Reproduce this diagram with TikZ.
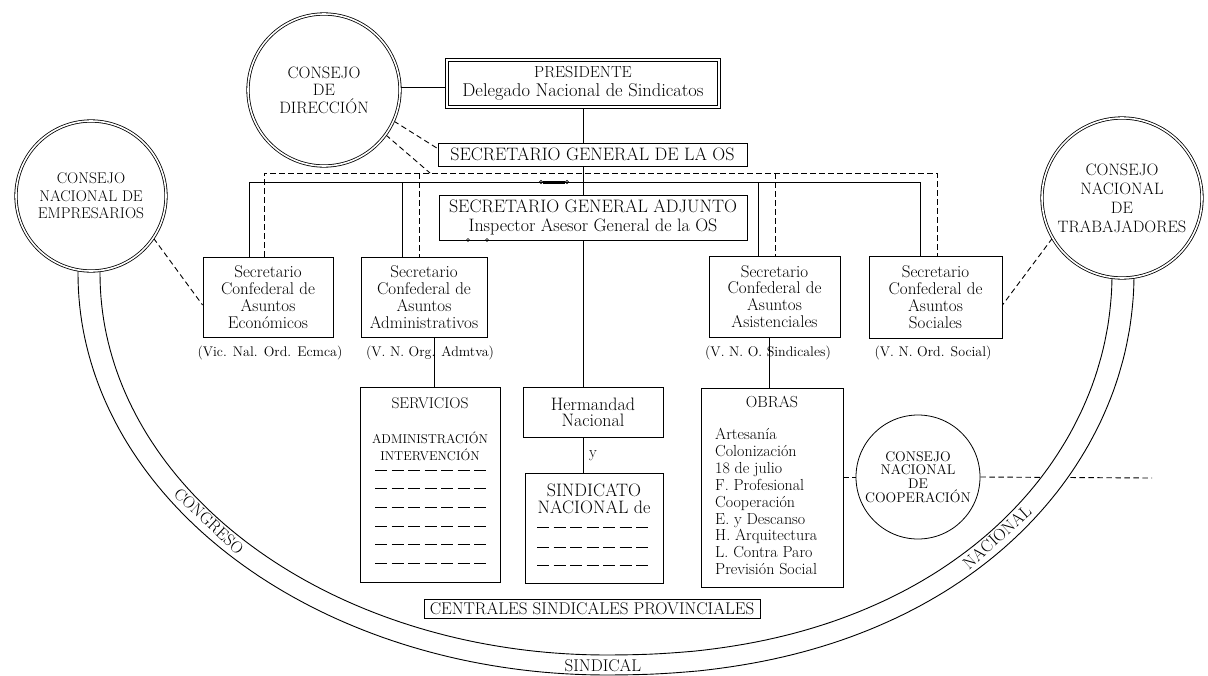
\documentclass[tikz,border=0pt]{standalone}
\usepackage{fontspec}
\usetikzlibrary{calc}
\pgfdeclarelayer{paper}
\pgfdeclarelayer{bg}
\pgfdeclarelayer{band}
\pgfsetlayers{paper,bg,band,main}
\newcommand\fsz[2]{\fontsize{#1}{#2}\selectfont}
\begin{document}
\begin{tikzpicture}[x=1pt,y=-1pt,
  every node/.style={font=\fsz{17}{16.8}, align=center, inner sep=0pt},
  box/.style={draw, fill=white, line width=0.9pt},
  circ/.style={draw, circle, fill=white, line width=0.8pt},
  dcirc/.style={circ, double, double distance=1.6pt},
  ln/.style={line width=0.9pt},
  dsh/.style={line width=0.9pt, dash pattern=on 5.5pt off 3.5pt},
  listdash/.style={line width=1pt, dash pattern=on 12pt off 4.5pt},
  bandline/.style={line width=0.9pt},
  paren/.style={font=\fsz{14}{16}},
  bandlabel/.style={font=\fsz{17}{18}}]
\useasboundingbox (0,0) rectangle (1208,675);
\begin{pgfonlayer}{paper}
\fill[white] (0,0) rectangle (1208,675);
\end{pgfonlayer}

% ---------- top ----------
\node[dcirc, minimum size=152, font=\fsz{16.5}{17.5}] (dir) at (324,90) {CONSEJO\\DE\\DIRECCIÓN};
\node[box, double, double distance=2pt, minimum width=272, minimum height=47] (pres) at (583,83.5)
  {{\fsz{16}{16}PRESIDENTE}\\[2pt]{\fsz{18.5}{19}Delegado Nacional de Sindicatos}};
\node[box, minimum width=309, minimum height=23, font=\fsz{18}{19}] (sg) at (592.5,154.5) {SECRETARIO GENERAL DE LA OS};
\node[box, minimum width=308, minimum height=45, font=\fsz{18}{19}] (sga) at (593,217.5) {SECRETARIO GENERAL ADJUNTO\\Inspector Asesor General de la OS};

% ---------- secretarios ----------
\node[box, minimum width=130, minimum height=80] (eco) at (268,297) {Secretario\\Confederal de\\Asuntos\\Económicos};
\node[box, minimum width=126, minimum height=80] (adm) at (424,297) {Secretario\\Confederal de\\Asuntos\\Administrativos};
\node[box, minimum width=131, minimum height=81] (asi) at (774.5,296.5) {Secretario\\Confederal de\\Asuntos\\Asistenciales};
\node[box, minimum width=133, minimum height=82] (soc) at (935.5,297) {Secretario\\Confederal de\\Asuntos\\Sociales};

\node[paren] (ecol) at (270,353) {(Vic. Nal. Ord. Ecmca)};
\node[paren] (adml) at (430,353) {(V. N. Org. Admtva)};
\node[paren] (asil) at (768,353) {(V. N. O. Sindicales)};
\node[paren] (socl) at (933,353) {(V. N. Ord. Social)};

% ---------- lower boxes ----------
\node[box, minimum width=140, minimum height=195] (serv) at (430,484.5) {};
\node[font=\fsz{15.5}{17}] (servt) at (430,403) {SERVICIOS};
\node[font=\fsz{12.8}{17}] (servs) at (430,446.5) {ADMINISTRACIÓN\\INTERVENCIÓN};
\foreach \yy in {470,488,507,526,544,563} \draw[listdash] (375,\yy) -- (488,\yy);

\node[box, minimum width=140, minimum height=50, font=\fsz{18}{16}] (herm) at (593,412) {Hermandad\\Nacional};
\node[font=\fsz{16}{17}] (yl) at (593,456) {y};
\node[box, minimum width=138, minimum height=110] (sind) at (594,528) {};
\node[font=\fsz{18}{17}] (sindt) at (594,498.5) {SINDICATO\\NACIONAL de};
\foreach \yy in {527,547,565} \draw[listdash] (537,\yy) -- (652,\yy);

\node[box, minimum width=142, minimum height=199] (obr) at (772,487.5) {};
\node[font=\fsz{16}{17}] (obrt) at (772,402) {OBRAS};
\node[font=\fsz{16}{16.9}, align=left, anchor=north west] (obrl) at (715,428) {Artesanía\\Colonización\\18 de julio\\F. Profesional\\Cooperación\\E. y Descanso\\H. Arquitectura\\L. Contra Paro\\Previsión Social};

\node[circ, minimum size=124, font=\fsz{14}{13.7}] (coop) at (918,477) {CONSEJO\\NACIONAL\\DE\\COOPERACIÓN};

\node[box, minimum width=336, minimum height=19, font=\fsz{17}{18}] (cent) at (592,608.5) {CENTRALES SINDICALES PROVINCIALES};

% ---------- side councils ----------
\node[dcirc, minimum size=150, font=\fsz{15.5}{17.5}] (emp) at (91,196) {CONSEJO\\NACIONAL DE\\EMPRESARIOS};
\node[dcirc, minimum size=160, font=\fsz{16.5}{19}] (trab) at (1122,198) {CONSEJO\\NACIONAL\\DE\\TRABAJADORES};

% ---------- band (Congreso Nacional Sindical) ----------
\begin{pgfonlayer}{band}
\fill[white] (78,255)
  -- plot[domain=0:90,samples=80] ({606-528*cos(\x)},{274+401*sin(\x)})
  -- plot[domain=90.2:180,samples=80] ({606+528*(-cos(\x))^0.9},{274+401*sin(\x)})
  -- (1134,255) -- (1112,255)
  -- plot[domain=180:90.2,samples=80] ({606+506*(-cos(\x))^0.9},{274+381*sin(\x)})
  -- plot[domain=90:0,samples=80] ({606-506*cos(\x)},{274+381*sin(\x)})
  -- (100,255) -- cycle;
\draw[bandline] (78,255)
  -- plot[domain=0:90,samples=80] ({606-528*cos(\x)},{274+401*sin(\x)})
  -- plot[domain=90.2:180,samples=80] ({606+528*(-cos(\x))^0.9},{274+401*sin(\x)})
  -- (1134,255);
\draw[bandline] (100,255)
  -- plot[domain=0:90,samples=80] ({606-506*cos(\x)},{274+381*sin(\x)})
  -- plot[domain=90.2:180,samples=80] ({606+506*(-cos(\x))^0.9},{274+381*sin(\x)})
  -- (1112,255);
\end{pgfonlayer}
\node[bandlabel, font=\fsz{16.5}{18}, rotate=-43] (cong) at (209,521) {CONGRESO};
\node[bandlabel] (sind2) at (603,665.5) {SINDICAL};
\node[bandlabel, rotate=42] (nac) at (997,537) {NACIONAL};

% ---------- connectors ----------
\coordinate (s1) at (249,182);
\coordinate (s2) at (402,182);
\coordinate (s3) at (758,182);
\coordinate (s4) at (920,182);
\coordinate (d1) at (264,173);
\coordinate (d2) at (419,173);
\coordinate (d3) at (775,173);
\coordinate (d4) at (937,173);
\coordinate (dj) at (430,173);
\coordinate (a1) at (434,0);
\coordinate (o1) at (769,0);
\coordinate (cend) at (1152,478);
\begin{pgfonlayer}{bg}
\draw[ln] ($(dir.east)+(0,-3)$) -- ($(dir.east -| pres.west)+(0,-3)$);
\draw[ln] (pres.south) -- (pres.south |- herm.north);
\draw[ln] (herm.south -| pres.south) -- (sind.north -| pres.south);
\draw[ln] (s1 |- eco.north) -- (s1) -- (s4) -- (s4 |- soc.north);
\draw[ln] (s2) -- (s2 |- adm.north);
\draw[ln] (s3) -- (s3 |- asi.north);
\draw[dsh] (d1 |- eco.north) -- (d1) -- (d4) -- (d4 |- soc.north);
\draw[dsh] (d2) -- (d2 |- adm.north);
\draw[dsh] (d3) -- (d3 |- asi.north);
\draw[dsh] (dir.-24) -- ($(sg.west)+(0,-6)$);
\draw[dsh] (dir.-36) -- (dj);
\draw[dsh] (emp.-34) -- ($(eco.west)+(0,8)$);
\draw[dsh] (trab.210) -- ($(soc.east)+(0,8)$);
\draw[ln] (adm.south -| a1) -- (serv.north -| a1);
\draw[ln] (asi.south -| o1) -- (obr.north -| o1);
\draw[dsh] (obr.east |- coop.west) -- (coop.west);
\draw[dsh] (coop.east) -- (cend);
\end{pgfonlayer}
% small marks
\draw[line width=0.6pt] (541,182) circle (1.6) (567,182) circle (1.6);
\draw[line width=0.6pt] (543,180.8) -- (565,180.8) (543,183.2) -- (565,183.2);
\draw[line width=0.6pt] (468,240) circle (1.5) (487,240) circle (1.5);
\end{tikzpicture}
\end{document}
